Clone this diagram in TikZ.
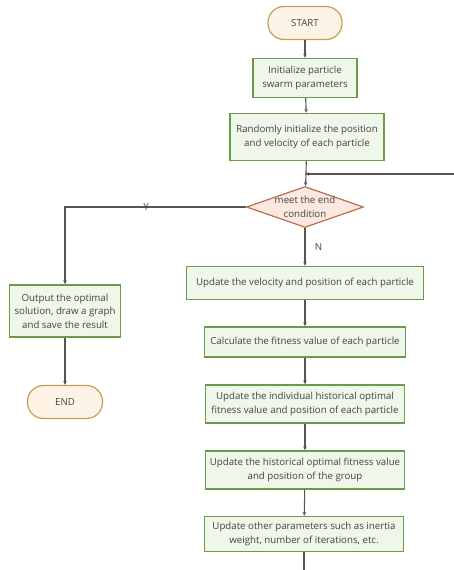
\documentclass[tikz,border=0pt]{standalone}
\usepackage{fontspec}
\setmainfont{Open Sans}
\usetikzlibrary{shapes.geometric,arrows.meta}

\definecolor{boxline}{HTML}{6A9A4A}
\definecolor{boxfill}{HTML}{EFF6EA}
\definecolor{decline}{HTML}{B5714F}
\definecolor{decfill}{HTML}{FBE8DF}
\definecolor{termline}{HTML}{C8A050}
\definecolor{termfill}{HTML}{FDF3E6}
\definecolor{wire}{HTML}{555555}
\definecolor{txt}{HTML}{444444}

\tikzset{
  stepbox/.style={draw=boxline,fill=boxfill,line width=1.4pt,align=center,
    inner sep=1pt,text=txt,font=\fontsize{9.7}{13.5}\selectfont},
  term/.style={draw=termline,fill=termfill,line width=1.2pt,rounded corners=16pt,
    minimum width=74pt,minimum height=33pt,text=txt,font=\fontsize{9.7}{13.5}\selectfont},
  decide/.style={diamond,draw=decline,fill=decfill,line width=1.2pt,
    inner sep=0pt,minimum width=117pt,minimum height=41pt},
  arr/.style={draw=wire,line width=1.1pt,-{Stealth[length=4pt,width=3.5pt]}},
  lbl/.style={text=txt,align=center,font=\fontsize{9.7}{13.5}\selectfont}
}

\begin{document}
\begin{tikzpicture}[x=1pt,y=-1pt]
  \useasboundingbox (0,0) rectangle (454,570);
  % main column
  \node[term] (start) at (305,23) {START};
  \node[stepbox,minimum width=104pt,minimum height=39pt] (init) at (305,78)
    {Initialize particle\\swarm parameters};
  \node[stepbox,minimum width=154pt,minimum height=47pt] (rand) at (307,137)
    {Randomly initialize the position\\and velocity of each particle};
  \node[decide] (dec) at (305,207) {};
  \node[lbl] (dectext) at (dec) {meet the end\\condition};
  \node[stepbox,minimum width=237pt,minimum height=33pt] (upd) at (305,283)
    {Update the velocity and position of each particle};
  \node[stepbox,minimum width=201pt,minimum height=30pt] (calc) at (305,342)
    {Calculate the fitness value of each particle};
  \node[stepbox,minimum width=199pt,minimum height=38pt] (indiv) at (305,404)
    {Update the individual historical optimal\\fitness value and position of each particle};
  \node[stepbox,minimum width=199pt,minimum height=38pt] (hist) at (305,470)
    {Update the historical optimal fitness value\\and position of the group};
  \node[stepbox,minimum width=199pt,minimum height=35pt] (other) at (304,534)
    {Update other parameters such as inertia\\weight, number of iterations, etc.};
  % left column
  \node[stepbox,minimum width=111pt,minimum height=52pt] (out) at (65,311)
    {Output the optimal\\solution, draw a graph\\and save the result};
  \node[term,minimum width=75pt] (end) at (65,402) {END};
  % loop ends
  \coordinate (back) at (454,174);
  \coordinate (join) at (305,174);
  \coordinate (tail) at (304,570);

  \foreach \a/\b in {start/init,init/rand,rand/dec,upd/calc,calc/indiv,indiv/hist,hist/other,out/end}
    \draw[arr] (\a) -- (\b);
  \draw[arr] (back) -- (join);
  \draw[arr] (dec) -- node[lbl,right=6pt] {N} (upd);
  \draw[arr] (dec.west) -| (out.north);
  \node[lbl] (yes) at (146,207) {Y};
  \draw[draw=wire,line width=1.1pt] (other) -- (tail);
\end{tikzpicture}
\end{document}
